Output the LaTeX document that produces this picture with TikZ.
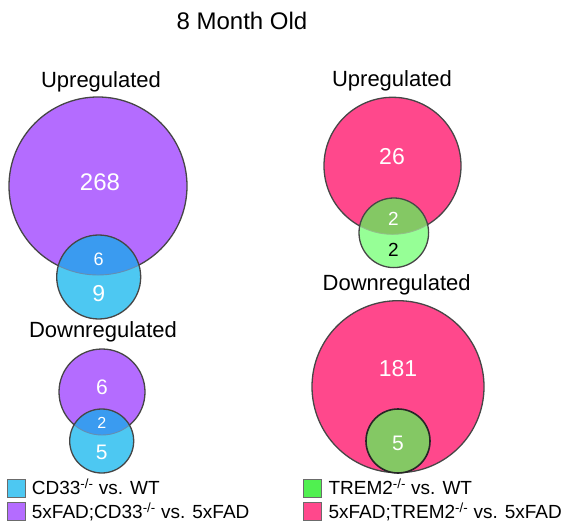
\documentclass[tikz,border=0pt]{standalone}
\usepackage{fontspec}
\setmainfont{Liberation Sans}
\definecolor{cpurple}{RGB}{180,108,255}
\definecolor{cblue}{RGB}{77,200,242}
\definecolor{cblueov}{RGB}{58,155,240}
\definecolor{cpink}{RGB}{255,72,140}
\definecolor{cgreen}{RGB}{150,255,150}
\definecolor{cgreenov}{RGB}{132,200,100}
\definecolor{cgreenleg}{RGB}{80,240,80}
\definecolor{cline}{RGB}{70,70,70}
\newcommand{\fsz}[1]{\fontsize{#1}{#1}\selectfont}
\begin{document}
\begin{tikzpicture}[x=1pt,y=-1pt,
  ring/.style={draw=cline, line width=1.3pt},
  innerring/.style={line width=0.9pt},
  num/.style={text=white, inner sep=0pt},
  head/.style={inner sep=0pt, anchor=base, font=\fsz{22}},
  legbox/.style={draw=cline!80, line width=1.2pt, minimum size=18pt, inner sep=0pt},
  legtxt/.style={inner sep=0pt, anchor=base west, font=\fsz{19}}]
\useasboundingbox (0,0) rectangle (564,529);

% title
\node[inner sep=0pt, anchor=base, font=\fsz{24}] (title) at (242,30) {8 Month Old};

% ---------- left, upregulated ----------
\node[head] (upL) at (101,87.3) {Upregulated};
\fill[cpurple] (98,186) circle (89pt);
\draw[ring] (98,186) circle (89pt);
\fill[cblue] (98.7,277) circle (42pt);
\begin{scope}
  \clip (98.7,277) circle (42pt);
  \fill[cblueov] (98,186) circle (89pt);
  \draw[innerring, draw=cblueov!60!black!70] (98,186) circle (89pt);
\end{scope}
\draw[ring] (98.7,277) circle (42pt);
\node[num, font=\fsz{24}] (n268) at (100,182) {268};
\node[num, font=\fsz{18}] (n6a) at (98.7,259) {6};
\node[num, font=\fsz{23}] (n9) at (98.7,294) {9};

% ---------- left, downregulated ----------
\node[head] (downL) at (103,337) {Downregulated};
\fill[cpurple] (102,392) circle (43pt);
\draw[ring] (102,392) circle (43pt);
\fill[cblue] (101.7,441) circle (32pt);
\begin{scope}
  \clip (101.7,441) circle (32pt);
  \fill[cblueov] (102,392) circle (43pt);
  \draw[innerring, draw=cblueov!60!black!70] (102,392) circle (43pt);
\end{scope}
\draw[ring] (101.7,441) circle (32pt);
\node[num, font=\fsz{21}] (n6b) at (102,387) {6};
\node[num, font=\fsz{16}] (n2a) at (101.7,422.7) {2};
\node[num, font=\fsz{21}] (n5a) at (101.7,452.7) {5};

% ---------- right, upregulated ----------
\node[head] (upR) at (392,86.7) {Upregulated};
\fill[cpink] (392.5,165.8) circle (68.5pt);
\draw[ring] (392.5,165.8) circle (68.5pt);
\fill[cgreen] (393.8,232.8) circle (34.8pt);
\begin{scope}
  \clip (393.8,232.8) circle (34.8pt);
  \fill[cgreenov] (392.5,165.8) circle (68.5pt);
  \draw[innerring, draw=cgreenov!80!green!70!black!60] (392.5,165.8) circle (68.5pt);
\end{scope}
\draw[ring] (393.8,232.8) circle (34.8pt);
\node[num, font=\fsz{23}] (n26) at (392,157) {26};
\node[num, font=\fsz{19}] (n2b) at (393.5,219) {2};
\node[inner sep=0pt, font=\fsz{19}] (n2c) at (393.5,250) {2};

% ---------- right, downregulated ----------
\node[head] (downR) at (396.7,290.7) {Downregulated};
\fill[cpink] (398,386.7) circle (86pt);
\draw[ring] (398,386.7) circle (86pt);
\fill[cgreenov] (398,441) circle (32pt);
\draw[draw=black!85, line width=1.6pt] (398,441) circle (32pt);
\node[num, font=\fsz{23}] (n181) at (398,369) {181};
\node[num, font=\fsz{21}] (n5b) at (398,443) {5};

% ---------- legends ----------
\node[legbox, fill=cblue] (k1) at (16.7,488.3) {};
\node[legbox, fill=cpurple] (k2) at (16.7,511.7) {};
\node[legtxt] (t1) at (31.7,494.5) {CD33\textsuperscript{-/-} vs. WT};
\node[legtxt] (t2) at (31.7,518.5) {5xFAD;CD33\textsuperscript{-/-} vs. 5xFAD};

\node[legbox, fill=cgreenleg] (k3) at (312.7,488.3) {};
\node[legbox, fill=cpink] (k4) at (312.7,511.7) {};
\node[legtxt] (t3) at (328.3,494.5) {TREM2\textsuperscript{-/-} vs. WT};
\node[legtxt] (t4) at (328.3,518.5) {5xFAD;TREM2\textsuperscript{-/-} vs. 5xFAD};
\end{tikzpicture}
\end{document}
